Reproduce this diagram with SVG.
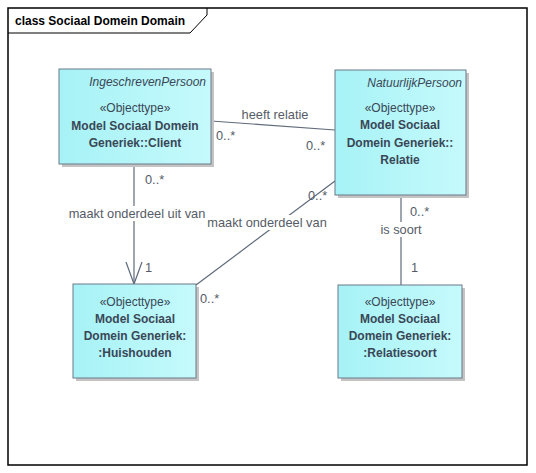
<svg xmlns="http://www.w3.org/2000/svg" width="536" height="473" viewBox="0 0 536 473">
<defs>
<linearGradient id="g" x1="0" y1="0" x2="1" y2="0">
<stop offset="0" stop-color="#a6f2f6"/>
<stop offset="1" stop-color="#c6fafc"/>
</linearGradient>
<style>
text{font-family:"Liberation Sans",Arial,sans-serif;font-size:12px;fill:#3a4756}
.b{font-weight:bold}
.i{font-style:italic}
.m{text-anchor:middle}
.e{text-anchor:end}
.box{fill:url(#g);stroke:#6c7888;stroke-width:1}
.sh{fill:#c4c4c4}
.ln{stroke:#5f6a7a;stroke-width:1.2;fill:none}
.lbl{fill:#555c66;font-size:12.8px}
.bg{fill:#ffffff}
</style>
</defs>
<rect x="0" y="0" width="536" height="473" fill="#ffffff"/>
<g id="frame">
<rect x="8" y="8" width="519" height="457" fill="none" stroke="#000" stroke-width="1.5"/>
<polyline points="8,33 190,33 207,15 207,8" fill="none" stroke="#000" stroke-width="1"/>
<text x="15" y="25" class="b" style="font-size:12px;fill:#000">class Sociaal Domein Domain</text>
</g>
<g id="connectors">
<line class="ln" x1="211" y1="121" x2="335" y2="130"/>
<line class="ln" x1="134" y1="164" x2="134" y2="284"/>
<polyline class="ln" points="126,262 134,284 142,262"/>
<line class="ln" x1="196" y1="285" x2="335" y2="181"/>
<line class="ln" x1="401" y1="195" x2="401" y2="285"/>
<rect class="bg" x="66" y="206" width="142" height="15"/>
<rect class="bg" x="204" y="215" width="126" height="15"/>
<rect class="bg" x="377" y="222" width="48" height="15"/>
<text class="lbl m" x="275" y="119">heeft relatie</text>
<text class="lbl" x="216" y="140">0..*</text>
<text class="lbl" x="306" y="150">0..*</text>
<text class="lbl m" x="137" y="218">maakt onderdeel uit van</text>
<text class="lbl" x="145" y="184">0..*</text>
<text class="lbl" x="145" y="272">1</text>
<text class="lbl m" x="267" y="227">maakt onderdeel van</text>
<text class="lbl" x="308" y="200">0..*</text>
<text class="lbl" x="200" y="303">0..*</text>
<text class="lbl m" x="401" y="234">is soort</text>
<text class="lbl" x="410" y="216">0..*</text>
<text class="lbl" x="411" y="272">1</text>
</g>
<g id="IngeschrevenPersoon">
<rect class="sh" x="62" y="72" width="152" height="95"/>
<rect class="box" x="59" y="69" width="152" height="95"/>
<text class="i e" x="206" y="86">IngeschrevenPersoon</text>
<text class="m" x="135" y="112">«Objecttype»</text>
<text class="b m" x="135" y="130">Model Sociaal Domein</text>
<text class="b m" x="135" y="147">Generiek::Client</text>
</g>
<g id="NatuurlijkPersoon">
<rect class="sh" x="338" y="73" width="131" height="125"/>
<rect class="box" x="335" y="70" width="131" height="125"/>
<text class="i e" x="462" y="87">NatuurlijkPersoon</text>
<text class="m" x="400" y="112">«Objecttype»</text>
<text class="b m" x="400" y="129">Model Sociaal</text>
<text class="b m" x="400" y="147">Domein Generiek::</text>
<text class="b m" x="400" y="164">Relatie</text>
</g>
<g id="Huishouden">
<rect class="sh" x="76" y="287" width="123" height="94"/>
<rect class="box" x="73" y="284" width="123" height="94"/>
<text class="m" x="135" y="306">«Objecttype»</text>
<text class="b m" x="135" y="323">Model Sociaal</text>
<text class="b m" x="135" y="340">Domein Generiek:</text>
<text class="b m" x="135" y="357">:Huishouden</text>
</g>
<g id="Relatiesoort">
<rect class="sh" x="341" y="288" width="124" height="93"/>
<rect class="box" x="338" y="285" width="124" height="93"/>
<text class="m" x="400" y="306">«Objecttype»</text>
<text class="b m" x="400" y="323">Model Sociaal</text>
<text class="b m" x="400" y="340">Domein Generiek:</text>
<text class="b m" x="400" y="357">:Relatiesoort</text>
</g>
</svg>
